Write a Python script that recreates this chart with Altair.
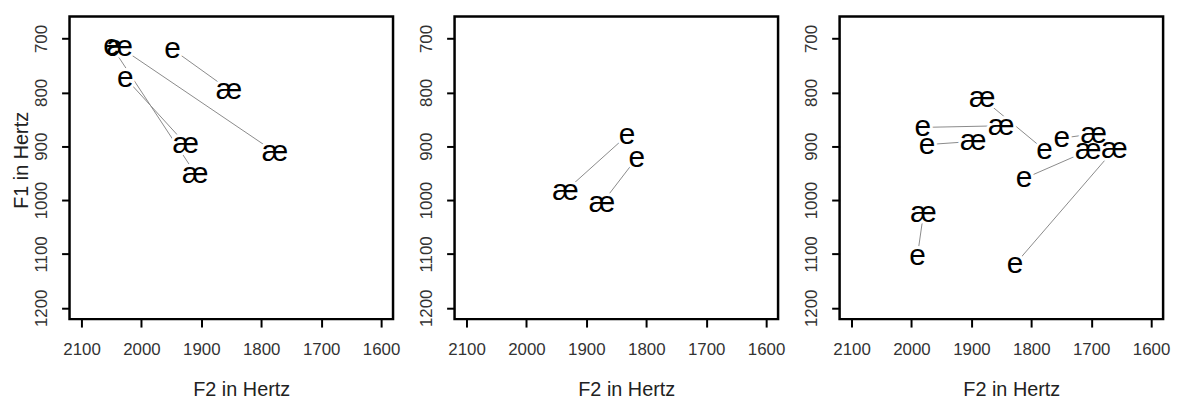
import altair as alt
import pandas as pd

# ---- axes -------------------------------------------------------------
X_TICKS = [2100, 2000, 1900, 1800, 1700, 1600]
Y_TICKS = [700, 800, 900, 1000, 1100, 1200]
X_DOMAIN = [1580, 2120]
Y_DOMAIN = [659, 1221]
X_TITLE = "F2 in Hertz"
Y_TITLE = "F1 in Hertz"

# ---- panel 1 ----------------------------------------------------------
p1_e_f2 = [2050, 2027, 1948]
p1_e_f1 = [714, 773, 720]
p1_ae_f2 = [2036, 1926, 1910, 1854, 1777]
p1_ae_f1 = [716, 896, 951, 795, 911]
p1_seg_f2 = [2050, 2027, 1948, 2036]
p1_seg_f1 = [714, 773, 720, 716]
p1_seg_f2_end = [1910, 1926, 1854, 1777]
p1_seg_f1_end = [951, 896, 795, 911]

# ---- panel 2 ----------------------------------------------------------
p2_e_f2 = [1832, 1816]
p2_e_f1 = [880, 922]
p2_ae_f2 = [1935, 1874]
p2_ae_f1 = [983, 1006]
p2_seg_f2 = [1832, 1816]
p2_seg_f1 = [880, 922]
p2_seg_f2_end = [1935, 1874]
p2_seg_f1_end = [983, 1006]

# ---- panel 3 ----------------------------------------------------------
p3_e_f2 = [1981, 1974, 1778, 1749, 1812, 1827, 1990]
p3_e_f1 = [865, 897, 907, 885, 960, 1119, 1103]
p3_ae_f2 = [1850, 1897, 1882, 1696, 1705, 1661, 1980]
p3_ae_f1 = [862, 891, 811, 877, 908, 905, 1025]
p3_seg_f2 = p3_e_f2
p3_seg_f1 = p3_e_f1
p3_seg_f2_end = p3_ae_f2
p3_seg_f1_end = p3_ae_f1

W, H = 326, 305
FONT = "Liberation Sans"
GLYPH = 30


def panel(e_f2, e_f1, ae_f2, ae_f1, s_f2, s_f1, s_f2e, s_f1e, ytitle):
    pts = pd.DataFrame({
        "f2": e_f2 + ae_f2,
        "f1": e_f1 + ae_f1,
        "v": ["e"] * len(e_f2) + ["æ"] * len(ae_f2),
    })
    segs = pd.DataFrame({"f2": s_f2, "f1": s_f1, "f2e": s_f2e, "f1e": s_f1e})

    xs = alt.Scale(domain=X_DOMAIN, reverse=True, nice=False, zero=False)
    ys = alt.Scale(domain=Y_DOMAIN, reverse=True, nice=False, zero=False)
    xax = alt.Axis(values=X_TICKS, format="d", title=X_TITLE, titleX=W / 2 + 10, titleY=77,
                   titleBaseline="alphabetic", titleAlign="center")
    if ytitle:
        yax = alt.Axis(values=Y_TICKS, format="d", title=Y_TITLE, titleX=-42, titleY=H / 2 - 8,
                       titleBaseline="alphabetic", titleAlign="center", titleAngle=270)
    else:
        yax = alt.Axis(values=Y_TICKS, format="d", title=None)

    rules = alt.Chart(segs).mark_rule(color="#8a8a8a", strokeWidth=1).encode(
        x=alt.X("f2:Q", scale=xs, axis=xax),
        y=alt.Y("f1:Q", scale=ys, axis=yax),
        x2="f2e:Q",
        y2="f1e:Q",
    )
    halo = alt.Chart(pts).mark_text(
        font=FONT, fontSize=GLYPH, color="white", stroke="white", strokeWidth=6,
        strokeJoin="round", baseline="middle", align="center",
    ).encode(x=alt.X("f2:Q", scale=xs), y=alt.Y("f1:Q", scale=ys), text="v:N")
    text = alt.Chart(pts).mark_text(
        font=FONT, fontSize=GLYPH, color="black", baseline="middle", align="center",
    ).encode(x=alt.X("f2:Q", scale=xs), y=alt.Y("f1:Q", scale=ys), text="v:N")
    return alt.layer(rules, halo, text).properties(width=W, height=H)


c1 = panel(p1_e_f2, p1_e_f1, p1_ae_f2, p1_ae_f1, p1_seg_f2, p1_seg_f1, p1_seg_f2_end, p1_seg_f1_end, True)
c2 = panel(p2_e_f2, p2_e_f1, p2_ae_f2, p2_ae_f1, p2_seg_f2, p2_seg_f1, p2_seg_f2_end, p2_seg_f1_end, False)
c3 = panel(p3_e_f2, p3_e_f1, p3_ae_f2, p3_ae_f1, p3_seg_f2, p3_seg_f1, p3_seg_f2_end, p3_seg_f1_end, False)

chart = alt.hconcat(c1, c2, c3, spacing=62, bounds="flush").properties(
    padding={"left": 2, "top": 5, "right": 5, "bottom": 0},
    background="white",
).configure_view(
    stroke="black", strokeWidth=2.5
).configure_axis(
    domain=False, grid=False, ticks=True, tickColor="black", tickWidth=2, tickSize=8,
    labelFont=FONT, labelFontSize=17, labelColor="#333333",
    titleFont=FONT, titleFontSize=20, titleFontWeight="normal", titleColor="#222222",
).configure_axisX(
    labelPadding=15, labelAngle=0,
).configure_axisY(
    labelPadding=11, labelAngle=270, labelAlign="center", labelBaseline="bottom",
)

chart.save("out.html", embed_options={"renderer": "svg", "actions": False})
